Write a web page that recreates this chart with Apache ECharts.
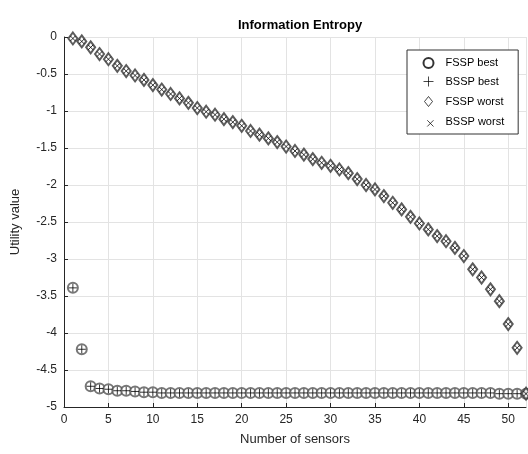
<!DOCTYPE html>
<html>
<head>
<meta charset="utf-8">
<script src="https://cdn.jsdelivr.net/npm/echarts@6/dist/echarts.min.js"></script>
<style>
  html, body { margin: 0; padding: 0; background: #fff; }
  #chart { width: 528px; height: 454px; }
</style>
</head>
<body>
<div id="chart"></div>
<script>
const sensors = [1,2,3,4,5,6,7,8,9,10,11,12,13,14,15,16,17,18,19,20,21,22,23,24,25,26,
  27,28,29,30,31,32,33,34,35,36,37,38,39,40,41,42,43,44,45,46,47,48,49,50,51,52]

const fsspBest = [-3.39,-4.22,-4.72,-4.75,-4.76,-4.78,-4.78,-4.79,-4.80,-4.80,-4.81,-4.81,-4.81,
  -4.81,-4.81,-4.81,-4.81,-4.81,-4.81,-4.81,-4.81,-4.81,-4.81,-4.81,-4.81,-4.81,
  -4.81,-4.81,-4.81,-4.81,-4.81,-4.81,-4.81,-4.81,-4.81,-4.81,-4.81,-4.81,-4.81,
  -4.81,-4.81,-4.81,-4.81,-4.81,-4.81,-4.81,-4.81,-4.81,-4.82,-4.82,-4.82,-4.82]
const bsspBest = fsspBest.slice()

const fsspWorst = [-0.02,-0.06,-0.14,-0.23,-0.30,-0.39,-0.46,-0.52,-0.58,-0.65,-0.71,-0.77,-0.83,
  -0.89,-0.96,-1.01,-1.05,-1.11,-1.15,-1.20,-1.27,-1.32,-1.37,-1.42,-1.48,-1.54,
  -1.59,-1.65,-1.70,-1.74,-1.79,-1.84,-1.92,-2.00,-2.06,-2.15,-2.24,-2.33,-2.43,
  -2.52,-2.60,-2.69,-2.76,-2.85,-2.96,-3.14,-3.25,-3.41,-3.57,-3.88,-4.20,-4.82]
const bsspWorst = fsspWorst.slice()

const names = ['FSSP best', 'BSSP best', 'FSSP worst', 'BSSP worst']
const plusPath = 'path://M0,-1L0,1M-1,0L1,0'
const crossPath = 'path://M-1,-1L1,1M1,-1L-1,1'
const diamondPath = 'path://M0,-5L4,0L0,5L-4,0Z'

const pairs = (ys) => sensors.map((x, i) => [x, ys[i]])
const font = 'Liberation Sans, Arial, sans-serif'
const legendLine = { color: 'none', borderColor: '#000', borderWidth: 0.9 }
const legendEmpty = { color: '#000', borderColor: '#000', borderWidth: 0.9 }

const myChart = echarts.init(document.querySelector('#chart'), null, { renderer: 'canvas' })

myChart.setOption({
  animation: false,
  backgroundColor: '#fff',
  title: {
    text: 'Information Entropy',
    left: 295,
    top: 14,
    textAlign: 'center',
    textStyle: { fontFamily: font, fontSize: 13, fontWeight: 'bold', color: '#000' }
  },
  legend: {
    orient: 'vertical',
    left: 407,
    top: 50,
    itemWidth: 24,
    itemHeight: 10,
    itemGap: 5,
    padding: [7, 14, 5, 14],
    borderColor: '#333',
    borderWidth: 1,
    borderRadius: 0,
    backgroundColor: '#fff',
    textStyle: { fontFamily: font, fontSize: 11, color: '#000' },
    data: [
      { name: names[0], icon: 'emptyCircle', itemStyle: legendEmpty },
      { name: names[1], icon: plusPath, itemStyle: legendLine },
      { name: names[2], icon: diamondPath, itemStyle: legendLine },
      { name: names[3], icon: 'path://M-1,-1L1,1M1,-1L-1,1M-2.2,-2.2L-2.2,-2.2', itemStyle: legendLine }
    ]
  },
  grid: { left: 64, right: 2, top: 37, bottom: 47 },
  xAxis: {
    type: 'value',
    min: 0,
    max: 52,
    interval: 5,
    name: 'Number of sensors',
    nameLocation: 'middle',
    nameGap: 26,
    nameTextStyle: { fontFamily: font, fontSize: 13, color: '#262626' },
    axisLine: { onZero: false, lineStyle: { color: '#262626' } },
    axisTick: { inside: true, length: 4, lineStyle: { color: '#262626' } },
    axisLabel: { fontFamily: font, fontSize: 12, color: '#262626', margin: 7, showMaxLabel: false },
    splitLine: { show: true, lineStyle: { color: '#e3e3e3' } }
  },
  yAxis: {
    type: 'value',
    min: -5,
    max: 0,
    interval: 0.5,
    name: 'Utility value',
    nameLocation: 'middle',
    nameGap: 42,
    nameTextStyle: { fontFamily: font, fontSize: 13, color: '#262626' },
    axisLine: { show: true, onZero: false, lineStyle: { color: '#262626' } },
    axisTick: { show: true, inside: true, length: 4, lineStyle: { color: '#262626' } },
    axisLabel: { fontFamily: font, fontSize: 12, color: '#262626', margin: 7 },
    splitLine: { show: true, lineStyle: { color: '#e3e3e3' } }
  },
  series: [
    {
      name: names[0],
      type: 'scatter',
      data: pairs(fsspBest),
      symbol: 'emptyCircle',
      symbolSize: 10,
      itemStyle: { color: '#555', borderColor: '#555', borderWidth: 1.2 }
    },
    {
      name: names[1],
      type: 'scatter',
      data: pairs(bsspBest),
      symbol: plusPath,
      symbolSize: 8,
      itemStyle: { color: 'none', borderColor: '#000', borderWidth: 1 }
    },
    {
      name: names[2],
      type: 'scatter',
      data: pairs(fsspWorst),
      symbol: 'emptyDiamond',
      symbolSize: [9, 12],
      itemStyle: { color: '#333', borderColor: '#333', borderWidth: 1.2 }
    },
    {
      name: names[3],
      type: 'scatter',
      data: pairs(bsspWorst),
      symbol: crossPath,
      symbolSize: 5,
      itemStyle: { color: 'none', borderColor: '#000', borderWidth: 1 }
    }
  ]
})
</script>
</body>
</html>
